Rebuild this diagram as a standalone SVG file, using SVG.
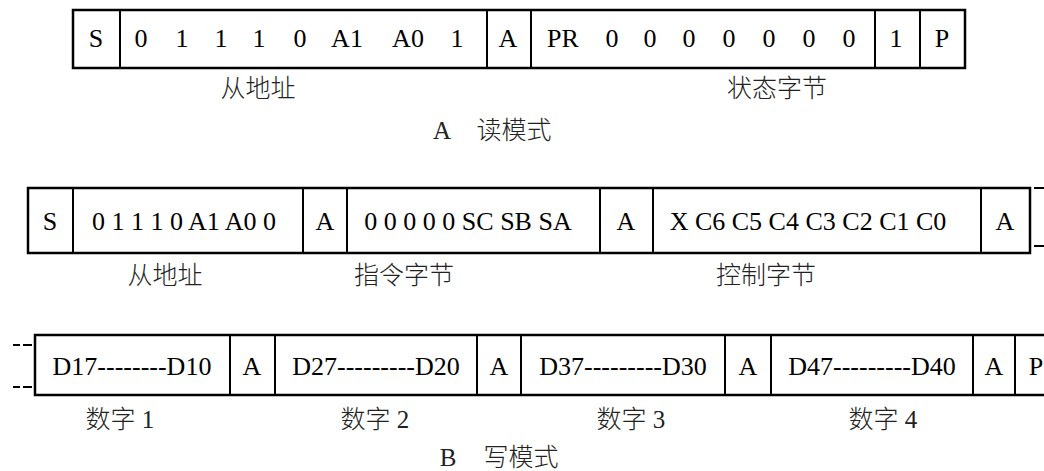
<svg xmlns="http://www.w3.org/2000/svg" width="1044" height="471" viewBox="0 0 1044 471">
<style>
.b{fill:none;stroke:#000;stroke-width:2.5}
.d{stroke:#000;stroke-width:2}
.t{font-family:"Liberation Serif","Noto Sans CJK SC",serif;font-size:26px;fill:#000;text-anchor:middle}
.c{font-family:"Liberation Serif","Noto Sans CJK SC",serif;font-size:25px;font-weight:300;fill:#222;text-anchor:middle}
</style>
<rect width="1044" height="471" fill="#fff"/>
<g id="rowA">
<rect class="b" x="73" y="10" width="892" height="58"/>
<line class="d" x1="120" y1="10" x2="120" y2="68"/>
<line class="d" x1="487" y1="10" x2="487" y2="68"/>
<line class="d" x1="531" y1="10" x2="531" y2="68"/>
<line class="d" x1="875" y1="10" x2="875" y2="68"/>
<line class="d" x1="920" y1="10" x2="920" y2="68"/>
<text class="t" x="96" y="47">S</text>
<text class="t" y="47"><tspan x="141">0</tspan><tspan x="182">1</tspan><tspan x="221">1</tspan><tspan x="259">1</tspan><tspan x="300">0</tspan><tspan x="347">A1</tspan><tspan x="408">A0</tspan><tspan x="457">1</tspan></text>
<text class="t" x="508" y="47">A</text>
<text class="t" y="47"><tspan x="563">PR</tspan><tspan x="612">0</tspan><tspan x="650">0</tspan><tspan x="689">0</tspan><tspan x="729">0</tspan><tspan x="769">0</tspan><tspan x="809">0</tspan><tspan x="849">0</tspan></text>
<text class="t" x="896" y="47">1</text>
<text class="t" x="942" y="47">P</text>
<text class="c" x="258" y="97">从地址</text>
<text class="c" x="777" y="97">状态字节</text>
<text class="c" y="139"><tspan x="442">A</tspan><tspan x="514">读模式</tspan></text>
</g>
<g id="rowB">
<rect class="b" x="28" y="188" width="1002" height="65"/>
<line class="d" x1="73" y1="188" x2="73" y2="253"/>
<line class="d" x1="303" y1="188" x2="303" y2="253"/>
<line class="d" x1="347" y1="188" x2="347" y2="253"/>
<line class="d" x1="600" y1="188" x2="600" y2="253"/>
<line class="d" x1="653" y1="188" x2="653" y2="253"/>
<line class="d" x1="981" y1="188" x2="981" y2="253"/>
<text class="t" x="50" y="230">S</text>
<text class="t" x="184" y="230">0 1 1 1 0 A1 A0 0</text>
<text class="t" x="325" y="230">A</text>
<text class="t" x="468" y="230">0 0 0 0 0 SC SB SA</text>
<text class="t" x="626" y="230">A</text>
<text class="t" x="808" y="230">X C6 C5 C4 C3 C2 C1 C0</text>
<text class="t" x="1005" y="230">A</text>
<line class="d" x1="1034" y1="188" x2="1044" y2="188"/>
<line class="d" x1="1034" y1="246" x2="1044" y2="246"/>
<text class="c" x="165" y="284">从地址</text>
<text class="c" x="404" y="284">指令字节</text>
<text class="c" x="766" y="284">控制字节</text>
</g>
<g id="rowC">
<path class="b" d="M1046 335 H35 V395 H1046"/>
<line class="d" x1="230" y1="335" x2="230" y2="395"/>
<line class="d" x1="275" y1="335" x2="275" y2="395"/>
<line class="d" x1="477" y1="335" x2="477" y2="395"/>
<line class="d" x1="521" y1="335" x2="521" y2="395"/>
<line class="d" x1="725" y1="335" x2="725" y2="395"/>
<line class="d" x1="771" y1="335" x2="771" y2="395"/>
<line class="d" x1="973" y1="335" x2="973" y2="395"/>
<line class="d" x1="1015" y1="335" x2="1015" y2="395"/>
<line class="d" x1="13" y1="345" x2="20" y2="345"/>
<line class="d" x1="23" y1="345" x2="32" y2="345"/>
<line class="d" x1="13" y1="387" x2="20" y2="387"/>
<line class="d" x1="23" y1="387" x2="32" y2="387"/>
<text class="t" x="132" y="375">D17--------D10</text>
<text class="t" x="252" y="375">A</text>
<text class="t" x="376" y="375">D27---------D20</text>
<text class="t" x="499" y="375">A</text>
<text class="t" x="623" y="375">D37---------D30</text>
<text class="t" x="748" y="375">A</text>
<text class="t" x="872" y="375">D47---------D40</text>
<text class="t" x="994" y="375">A</text>
<text class="t" x="1036" y="375">P</text>
<text class="c" x="120" y="428">数字 1</text>
<text class="c" x="375" y="428">数字 2</text>
<text class="c" x="631" y="428">数字 3</text>
<text class="c" x="883" y="428">数字 4</text>
<text class="c" y="466"><tspan x="448">B</tspan><tspan x="521">写模式</tspan></text>
</g>
</svg>
